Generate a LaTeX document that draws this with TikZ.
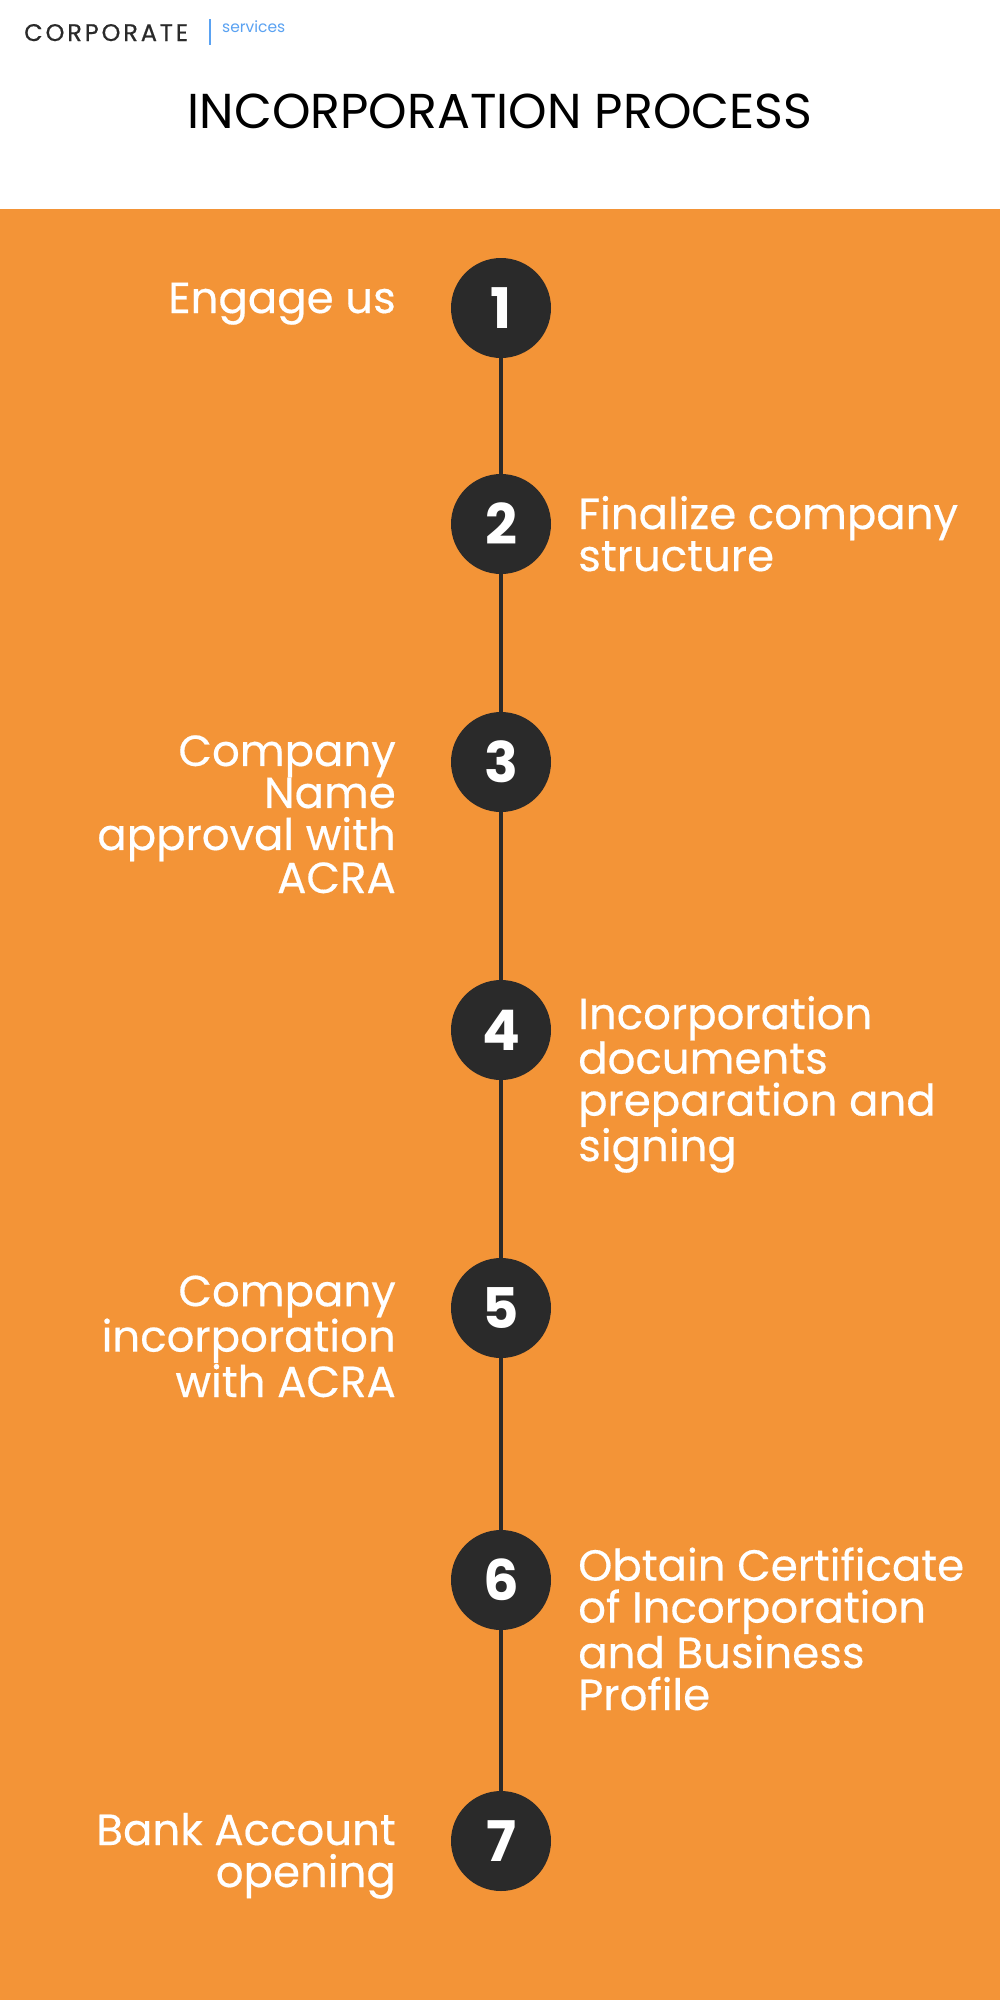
\documentclass[tikz,border=0pt]{standalone}
\usepackage{fontspec}
\setmainfont{Poppins}
\newfontfamily\logofont[LetterSpace=12,FakeBold=0.6]{Poppins}
\newfontfamily\bodyfont[FakeBold=0.4]{Poppins}
\definecolor{orng}{HTML}{F39437}
\definecolor{dark}{HTML}{2A2A2A}
\definecolor{blu}{HTML}{5AA2F2}
\begin{document}
\begin{tikzpicture}[x=1pt,y=-1pt,
  stepcircle/.style={circle,fill=dark,minimum size=100pt,inner sep=0pt,text=white,font=\fontsize{56}{56}\selectfont\bfseries},
  conn/.style={draw=dark,line width=4pt},
  rtext/.style={anchor=base east,align=right,text=white,inner sep=0pt,font=\bodyfont\fontsize{43.5}{42}\selectfont},
  ltext/.style={anchor=base west,align=left,text=white,inner sep=0pt,font=\bodyfont\fontsize{43.5}{42}\selectfont}]
\useasboundingbox (0,0) rectangle (1000,2000);
\fill[white] (0,0) rectangle (1000,209);
\fill[orng] (0,209) rectangle (1000,2000);
% header
\node[anchor=base west,inner sep=0pt,text=dark,font=\logofont\fontsize{24}{24}\selectfont] (logo) at (24,41) {CORPORATE};
\coordinate (dtop) at (210,19);
\coordinate (dbot) at (210,45);
\draw[blu,line width=2pt] (dtop) -- (dbot);
\node[anchor=base west,inner sep=0pt,text=blu,font=\fontsize{15.5}{15.5}\selectfont] (serv) at (222,32) {services};
\node[anchor=base,inner sep=0pt,text=black,font=\fontsize{49}{49}\selectfont] (title) at (500,128) {INCORPORATION PROCESS};
% circles
\node[stepcircle] (c1) at (501,308) {1};
\node[stepcircle] (c2) at (501,524) {2};
\node[stepcircle] (c3) at (501,762) {3};
\node[stepcircle] (c4) at (501,1030) {4};
\node[stepcircle] (c5) at (501,1308) {5};
\node[stepcircle] (c6) at (501,1580) {6};
\node[stepcircle] (c7) at (501,1841) {7};
\draw[conn] (c1) -- (c2);
\draw[conn] (c2) -- (c3);
\draw[conn] (c3) -- (c4);
\draw[conn] (c4) -- (c5);
\draw[conn] (c5) -- (c6);
\draw[conn] (c6) -- (c7);
% texts (base anchor = baseline of the last line)
\node[rtext] (t1) at (396,313) {Engage us};
\node[ltext] (t2) at (578,571) {Finalize company\\structure};
\node[rtext] (t3) at (396,893) {Company\\Name\\approval with\\ACRA};
\node[ltext] (t4) at (578,1161) {Incorporation\\documents\\preparation and\\signing};
\node[rtext] (t5) at (396,1397) {Company\\incorporation\\with ACRA};
\node[ltext] (t6) at (578,1710) {Obtain Certificate\\of Incorporation\\and Business\\Profile};
\node[rtext] (t7) at (396,1887) {Bank Account\\opening};
\end{tikzpicture}
\end{document}
